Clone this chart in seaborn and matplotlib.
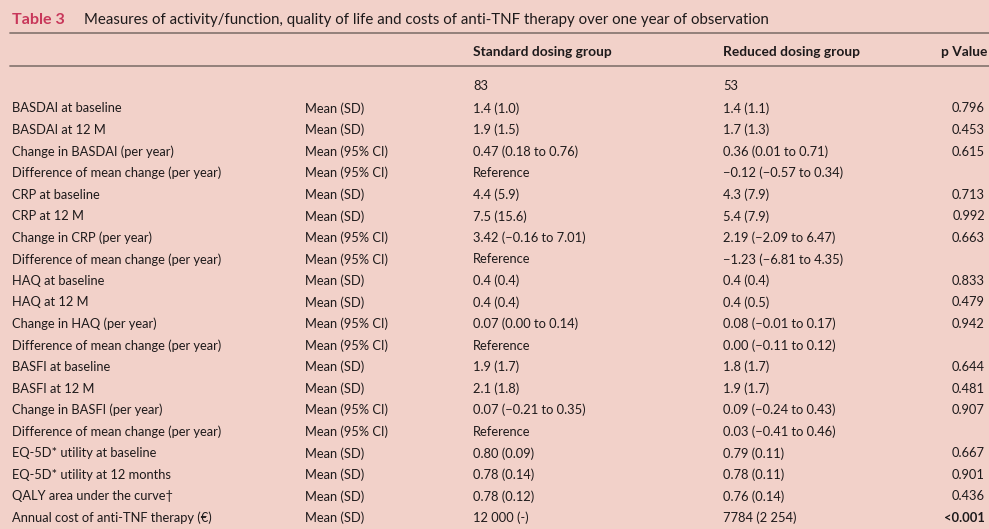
import matplotlib
matplotlib.use("Agg")
import matplotlib.pyplot as plt
import seaborn as sns

sns.set_theme(style="white")
plt.rcParams['font.family'] = ['Lato', 'DejaVu Sans']

BG = "#F2D1C9"
TXT = "#1E1A1B"
RED = "#C8375A"
RULE = "#8C7A74"

title_tag = "Table 3"
title_text = "Measures of activity/function, quality of life and costs of anti-TNF therapy over one year of observation"
headers = ["", "", "Standard dosing group", "Reduced dosing group", "p Value"]
n_row = ["", "", "83", "53", ""]

labels = [
    "BASDAI at baseline", "BASDAI at 12 M", "Change in BASDAI (per year)", "Difference of mean change (per year)",
    "CRP at baseline", "CRP at 12 M", "Change in CRP (per year)", "Difference of mean change (per year)",
    "HAQ at baseline", "HAQ at 12 M", "Change in HAQ (per year)", "Difference of mean change (per year)",
    "BASFI at baseline", "BASFI at 12 M", "Change in BASFI (per year)", "Difference of mean change (per year)",
    "EQ-5D* utility at baseline", "EQ-5D* utility at 12 months", "QALY area under the curve\u2020",
    "Annual cost of anti-TNF therapy (\u20ac)",
]
stats = [
    "Mean (SD)", "Mean (SD)", "Mean (95% CI)", "Mean (95% CI)",
    "Mean (SD)", "Mean (SD)", "Mean (95% CI)", "Mean (95% CI)",
    "Mean (SD)", "Mean (SD)", "Mean (95% CI)", "Mean (95% CI)",
    "Mean (SD)", "Mean (SD)", "Mean (95% CI)", "Mean (95% CI)",
    "Mean (SD)", "Mean (SD)", "Mean (SD)", "Mean (SD)",
]
standard = [
    "1.4 (1.0)", "1.9 (1.5)", "0.47 (0.18 to 0.76)", "Reference",
    "4.4 (5.9)", "7.5 (15.6)", "3.42 (\u22120.16 to 7.01)", "Reference",
    "0.4 (0.4)", "0.4 (0.4)", "0.07 (0.00 to 0.14)", "Reference",
    "1.9 (1.7)", "2.1 (1.8)", "0.07 (\u22120.21 to 0.35)", "Reference",
    "0.80 (0.09)", "0.78 (0.14)", "0.78 (0.12)", "12 000 (-)",
]
reduced = [
    "1.4 (1.1)", "1.7 (1.3)", "0.36 (0.01 to 0.71)", "\u22120.12 (\u22120.57 to 0.34)",
    "4.3 (7.9)", "5.4 (7.9)", "2.19 (\u22122.09 to 6.47)", "\u22121.23 (\u22126.81 to 4.35)",
    "0.4 (0.4)", "0.4 (0.5)", "0.08 (\u22120.01 to 0.17)", "0.00 (\u22120.11 to 0.12)",
    "1.8 (1.7)", "1.9 (1.7)", "0.09 (\u22120.24 to 0.43)", "0.03 (\u22120.41 to 0.46)",
    "0.79 (0.11)", "0.78 (0.11)", "0.76 (0.14)", "7784 (2 254)",
]
pvalues = [
    "0.796", "0.453", "0.615", "",
    "0.713", "0.992", "0.663", "",
    "0.833", "0.479", "0.942", "",
    "0.644", "0.481", "0.907", "",
    "0.667", "0.901", "0.436", "<0.001",
]

W, H = 989, 529
fig = plt.figure(figsize=(W / 100, H / 100), dpi=100, facecolor=BG)
ax = fig.add_axes([0, 0, 1, 1])
ax.set_facecolor(BG)
ax.set_xlim(0, W)
ax.set_ylim(H, 0)
ax.axis("off")

fs = 9.3
hfs = 9.9
col_x = [12, 305, 473, 723]
p_right = 985

ax.text(12, 20, title_tag, color=RED, fontsize=11.6, fontweight="bold", va="center", ha="left")
ax.text(84, 20, title_text, color=TXT, fontsize=10.85, va="center", ha="left")

ax.plot([10, W], [32.5, 32.5], color=RULE, lw=1.3)
ax.plot([10, W], [65.5, 65.5], color=RULE, lw=1.3)

ax.text(col_x[2], 52, headers[2], fontsize=hfs, fontweight="bold", color=TXT, va="center")
ax.text(col_x[3], 52, headers[3], fontsize=hfs, fontweight="bold", color=TXT, va="center")
ax.text(987.5, 52, headers[4], fontsize=hfs, fontweight="bold", color=TXT, va="center", ha="right")

ax.text(col_x[2], 86, n_row[2], fontsize=fs, color=TXT, va="center")
ax.text(col_x[3], 86, n_row[3], fontsize=fs, color=TXT, va="center")

y0, dy = 108.5, 21.55
for i in range(len(labels)):
    y = y0 + i * dy
    ax.text(col_x[0], y, labels[i], fontsize=fs, color=TXT, va="center")
    ax.text(col_x[1], y, stats[i], fontsize=fs, color=TXT, va="center")
    ax.text(col_x[2], y, standard[i], fontsize=fs, color=TXT, va="center")
    ax.text(col_x[3], y, reduced[i], fontsize=fs, color=TXT, va="center")
    if pvalues[i]:
        bold = pvalues[i].startswith("<")
        ax.text(p_right, y, pvalues[i], fontsize=fs, color=TXT, va="center", ha="right",
                fontweight="bold" if bold else "normal")

fig.savefig("out.png", dpi=100, facecolor=BG)
